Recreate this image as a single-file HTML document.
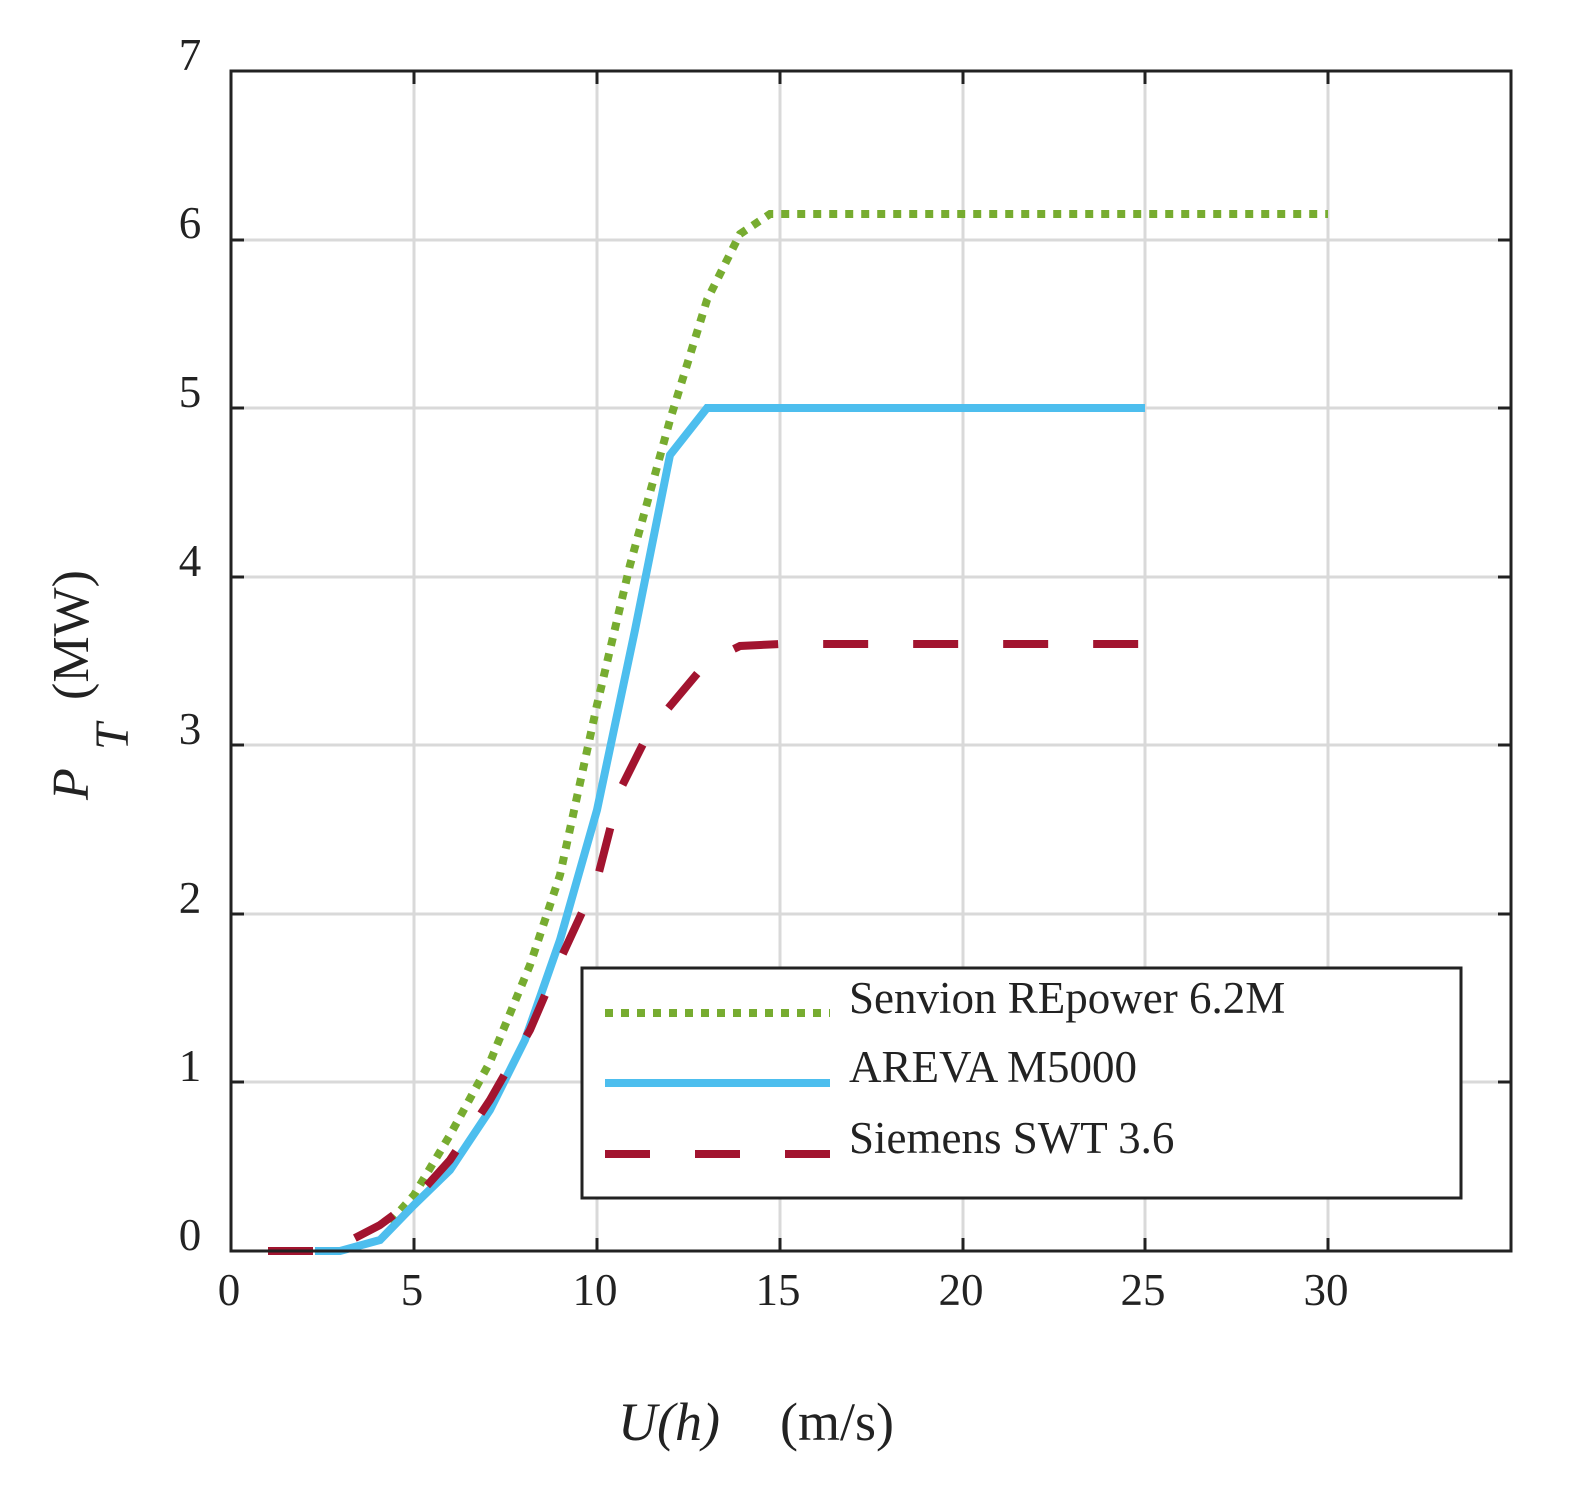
<!DOCTYPE html>
<html><head><meta charset="utf-8"><style>html,body{margin:0;padding:0;background:#fff}</style></head>
<body>
<svg width="1577" height="1501" xmlns="http://www.w3.org/2000/svg" font-family="Liberation Serif, serif">
<rect width="1577" height="1501" fill="#fff"/>
<g stroke="#d9d9d9" stroke-width="3">
<line x1="414" y1="71" x2="414" y2="1251"/><line x1="597" y1="71" x2="597" y2="1251"/>
<line x1="780" y1="71" x2="780" y2="1251"/><line x1="963" y1="71" x2="963" y2="1251"/>
<line x1="1145" y1="71" x2="1145" y2="1251"/><line x1="1328" y1="71" x2="1328" y2="1251"/>
<line x1="231" y1="1082" x2="1511" y2="1082"/><line x1="231" y1="914" x2="1511" y2="914"/>
<line x1="231" y1="745" x2="1511" y2="745"/><line x1="231" y1="577" x2="1511" y2="577"/>
<line x1="231" y1="408" x2="1511" y2="408"/><line x1="231" y1="240" x2="1511" y2="240"/>
</g>
<g stroke="#222" stroke-width="3">
<line x1="414" y1="1251" x2="414" y2="1238"/><line x1="597" y1="1251" x2="597" y2="1238"/><line x1="780" y1="1251" x2="780" y2="1238"/><line x1="963" y1="1251" x2="963" y2="1238"/><line x1="1145" y1="1251" x2="1145" y2="1238"/><line x1="1328" y1="1251" x2="1328" y2="1238"/>
<line x1="414" y1="71" x2="414" y2="84"/><line x1="597" y1="71" x2="597" y2="84"/><line x1="780" y1="71" x2="780" y2="84"/><line x1="963" y1="71" x2="963" y2="84"/><line x1="1145" y1="71" x2="1145" y2="84"/><line x1="1328" y1="71" x2="1328" y2="84"/>
<line x1="231" y1="1082" x2="244" y2="1082"/><line x1="231" y1="914" x2="244" y2="914"/><line x1="231" y1="745" x2="244" y2="745"/><line x1="231" y1="577" x2="244" y2="577"/><line x1="231" y1="408" x2="244" y2="408"/><line x1="231" y1="240" x2="244" y2="240"/>
<line x1="1511" y1="1082" x2="1498" y2="1082"/><line x1="1511" y1="914" x2="1498" y2="914"/><line x1="1511" y1="745" x2="1498" y2="745"/><line x1="1511" y1="577" x2="1498" y2="577"/><line x1="1511" y1="408" x2="1498" y2="408"/><line x1="1511" y1="240" x2="1498" y2="240"/>
</g>
<polyline fill="none" stroke="#77ac30" stroke-width="8" stroke-dasharray="8,8" points="390,1222 414,1195 450,1135 490,1062 530,965 560,875 597,705 630,565 670,420 707,300 740,234 770,214 1328,214"/>
<polyline fill="none" stroke="#4dbeee" stroke-width="8" points="315,1251 340,1251 380,1240 414,1205 450,1170 490,1110 525,1040 560,940 597,810 635,630 670,455 707,408 1145,408"/>
<polyline fill="none" stroke="#a2142f" stroke-width="8" stroke-dasharray="45,45" points="268,1251 330,1251 380,1225 414,1200 450,1160 490,1100 530,1030 560,960 597,880 620,790 650,730 707,662 740,646 780,644 1145,644"/>
<rect x="231" y="71" width="1280" height="1180" fill="none" stroke="#222" stroke-width="3"/>
<g font-size="45" fill="#222" text-anchor="middle">
<text x="229" y="1305">0</text><text x="412" y="1305">5</text><text x="595" y="1305">10</text><text x="778" y="1305">15</text><text x="961" y="1305">20</text><text x="1143" y="1305">25</text><text x="1326" y="1305">30</text>
</g>
<g font-size="45" fill="#222" text-anchor="middle">
<text x="190" y="1250">0</text><text x="190" y="1081">1</text><text x="190" y="913">2</text><text x="190" y="744">3</text><text x="190" y="576">4</text><text x="190" y="407">5</text><text x="190" y="238">6</text><text x="190" y="70">7</text>
</g>
<text x="618" y="1440" font-size="54" fill="#222" font-style="italic">U(h)</text>
<text x="780" y="1440" font-size="54" fill="#222">(m/s)</text>
<g transform="translate(88,800) rotate(-90)" fill="#222" font-size="52">
<text x="0" y="0" font-style="italic">P</text>
<text x="50" y="40" font-style="italic" font-size="48">T</text>
<text x="100" y="0">(MW)</text>
</g>
<rect x="582" y="968" width="879" height="230" fill="#fff" stroke="#222" stroke-width="3"/>
<line x1="605" y1="1013" x2="830" y2="1013" stroke="#77ac30" stroke-width="8" stroke-dasharray="8,8"/>
<line x1="605" y1="1083" x2="830" y2="1083" stroke="#4dbeee" stroke-width="8"/>
<line x1="605" y1="1154" x2="830" y2="1154" stroke="#a2142f" stroke-width="8" stroke-dasharray="45,45"/>
<g font-size="45" fill="#222">
<text x="849" y="1013">Senvion REpower 6.2M</text>
<text x="849" y="1082">AREVA M5000</text>
<text x="849" y="1153">Siemens SWT 3.6</text>
</g>
</svg>
</body></html>
